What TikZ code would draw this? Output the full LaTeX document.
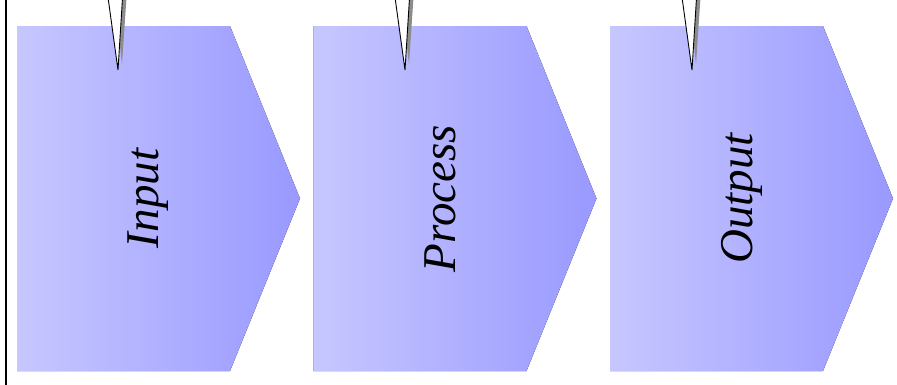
\documentclass[tikz,border=0pt]{standalone}
\usepackage{fontspec}
\setmainfont{Liberation Serif}
\begin{document}
\begin{tikzpicture}[x=1pt,y=-1pt]
\tikzset{
  chev/.style={left color=blue!22, right color=blue!40, draw=none},
  lbl/.style={rotate=90, font=\itshape\fontsize{47}{56}\selectfont, inner sep=0pt, anchor=base},
  pinbody/.style={fill=white, draw=black, line width=0.9pt, line join=miter},
  pinshade/.style={fill=black!45, draw=none}
}
\useasboundingbox (0,0) rectangle (897,384);
\draw[line width=1.3pt] (6,-2) -- (6,386);
% chevrons
\foreach \x/\n in {17/a, 313.5/b, 610/c}{
  \fill[chev] (\x,26) -- (\x+213,26) -- (\x+283,198.5) -- (\x+213,371) -- (\x,371) -- cycle;
}
\node[lbl] (ta) at (158,198.5) {Input};
\node[lbl] (tb) at (455,198.5) {Process};
\node[lbl] (tc) at (752,198.5) {Output};
% pins
\foreach \t in {118,405,692}{
  \fill[pinshade] (\t-4,-10) -- (\t+9,-10) -- (\t+4,64) -- cycle;
  \draw[pinbody] (\t-11,-10) -- (\t+5,-10) -- (\t,70) -- cycle;
}
\end{tikzpicture}
\end{document}
